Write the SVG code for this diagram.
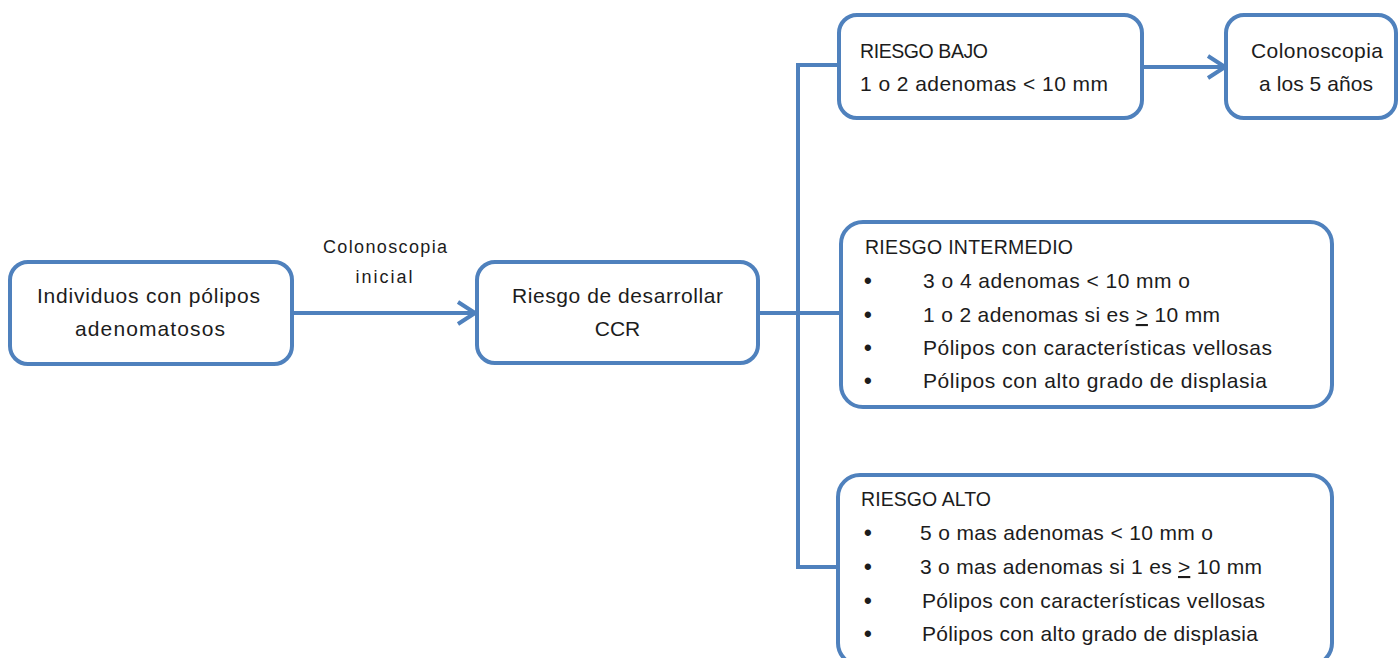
<svg xmlns="http://www.w3.org/2000/svg" width="1399" height="658" viewBox="0 0 1399 658">
<style>
.box{fill:#fff;stroke:#4F81BD;stroke-width:4}
.t{font-family:"Liberation Sans",Arial,sans-serif;font-size:21px;fill:#1c1c1c}
.h{font-size:19.5px}
.b{font-size:22px;font-weight:bold}
.c{text-anchor:middle}
.lbl{font-family:"Liberation Sans",Arial,sans-serif;font-size:18px;fill:#1c1c1c;text-anchor:middle}
.ln{fill:none;stroke:#4F81BD;stroke-width:4}
</style>
<defs>
<marker id="arr" markerWidth="22" markerHeight="26" refX="19" refY="13" orient="auto" markerUnits="userSpaceOnUse">
<path d="M2,2 L19,13 L2,24" fill="none" stroke="#4F81BD" stroke-width="4"/>
</marker>
</defs>
<rect width="1399" height="658" fill="#fff"/>
<g id="connectors">
<line class="ln" x1="292" y1="313" x2="475" y2="313" marker-end="url(#arr)"/>
<line class="ln" x1="758" y1="313" x2="840" y2="313"/>
<polyline class="ln" points="838,65 798,65 798,567 838,567"/>
<line class="ln" x1="1142" y1="67" x2="1225" y2="67" marker-end="url(#arr)"/>
<text class="lbl" x="385" y="253" textLength="124">Colonoscopia</text>
<text class="lbl" x="384" y="283" textLength="57">inicial</text>
</g>
<g id="n1">
<rect class="box" x="10" y="262" width="282" height="102" rx="18"/>
<text class="t c" x="148.5" y="303" textLength="223">Individuos con pólipos</text>
<text class="t c" x="150" y="336" textLength="150">adenomatosos</text>
</g>
<g id="n2">
<rect class="box" x="477" y="262" width="281" height="101" rx="18"/>
<text class="t c" x="617.5" y="303" textLength="211">Riesgo de desarrollar</text>
<text class="t c" x="617.5" y="336">CCR</text>
</g>
<g id="bajo">
<rect class="box" x="839" y="15" width="303" height="103" rx="18"/>
<text class="t h" x="860" y="58" textLength="128">RIESGO BAJO</text>
<text class="t" x="860" y="91" textLength="248">1 o 2 adenomas &lt; 10  mm</text>
</g>
<g id="colo5">
<rect class="box" x="1226" y="15" width="170" height="103" rx="18"/>
<text class="t c" x="1317" y="58" textLength="132">Colonoscopia</text>
<text class="t c" x="1316" y="91" textLength="114">a los 5 años</text>
</g>
<g id="intermedio">
<rect class="box" x="841" y="222" width="491" height="185" rx="22"/>
<text class="t h" x="865" y="254" textLength="208">RIESGO INTERMEDIO</text>
<text class="t b" x="864" y="288">•</text><text class="t" x="923" y="288" textLength="267">3 o 4 adenomas &lt; 10  mm o</text>
<text class="t b" x="864" y="322">•</text><text class="t" x="923" y="322" textLength="297">1 o 2 adenomas si es <tspan text-decoration="underline">&gt;</tspan> 10 mm</text>
<text class="t b" x="864" y="355">•</text><text class="t" x="923" y="355" textLength="349">Pólipos con características vellosas</text>
<text class="t b" x="864" y="388">•</text><text class="t" x="923" y="388" textLength="344">Pólipos con alto grado de displasia</text>
</g>
<g id="alto">
<rect class="box" x="838" y="475" width="494" height="190" rx="22"/>
<text class="t h" x="861" y="506" textLength="130">RIESGO ALTO</text>
<text class="t b" x="864" y="540">•</text><text class="t" x="920" y="540" textLength="293">5 o mas adenomas &lt; 10 mm o</text>
<text class="t b" x="864" y="574">•</text><text class="t" x="920" y="574" textLength="342">3 o mas adenomas si 1 es <tspan text-decoration="underline">&gt;</tspan> 10 mm</text>
<text class="t b" x="864" y="608">•</text><text class="t" x="922" y="608" textLength="343">Pólipos con características vellosas</text>
<text class="t b" x="864" y="641">•</text><text class="t" x="922" y="641" textLength="336">Pólipos con alto grado de displasia</text>
</g>
</svg>
